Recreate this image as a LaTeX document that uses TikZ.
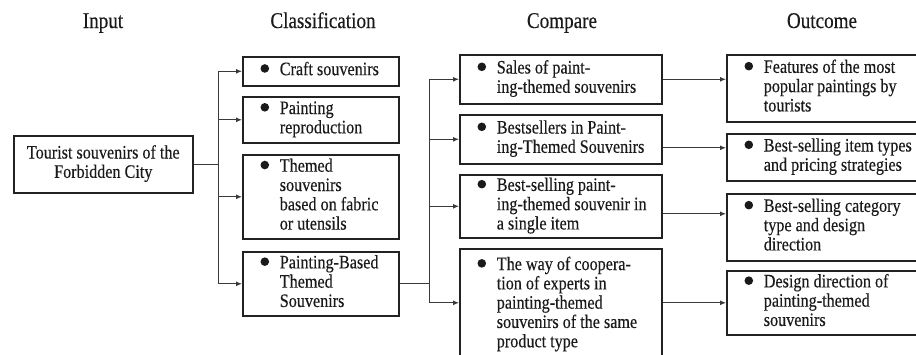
\documentclass[tikz,border=0pt]{standalone}
\usepackage{fontspec}
\setmainfont[FakeStretch=0.85,FakeBold=0.3]{Liberation Serif}
\usetikzlibrary{arrows.meta}
\definecolor{boxc}{HTML}{222222}
\definecolor{linec}{HTML}{3A3A3A}
\definecolor{txtc}{HTML}{1A1A1A}
\newcommand\bul{\makebox[19.3pt][l]{\tikz[baseline=-6.7pt]\fill[txtc] (4.3pt,0pt) circle (4.3pt);}}
\newcommand\itm[2]{\makebox[#1][l]{\hspace*{17.7pt}\bul\begin{tabular}[t]{@{}l@{}}#2\end{tabular}}}
\begin{document}
\begin{tikzpicture}[x=1pt,y=-1pt,
  font=\fontsize{19}{19.3}\selectfont,
  box/.style={draw=boxc, line width=1.6pt, inner sep=0pt, anchor=north west, text=txtc},
  ln/.style={draw=linec, line width=1pt},
  arr/.style={ln, -{Latex[length=6pt,width=5pt]}},
  hdr/.style={font=\fontsize{22.5}{27}\selectfont, text=txtc, anchor=base}]
\useasboundingbox (0,0) rectangle (916,354);
\clip (0,0) rectangle (916,354);
% headers
\node[hdr] (h1) at (103,28) {Input};
\node[hdr] (h2) at (323,28) {Classification};
\node[hdr] (h3) at (562,28) {Compare};
\node[hdr] (h4) at (822,28) {Outcome};
% input
\node[box, minimum width=179pt, minimum height=57pt] (in) at (13,135)
  {\begin{tabular}{@{}c@{}}Tourist souvenirs of the\\Forbidden City\end{tabular}};
% classification
\node[box, minimum height=29pt] (c1) at (242,56) {\itm{156pt}{Craft souvenirs}};
\node[box, minimum height=46pt] (c2) at (242,96) {\itm{156pt}{Painting\\reproduction}};
\node[box, minimum height=84pt] (c3) at (242,154) {\itm{156pt}{Themed\\souvenirs\\based on fabric\\or utensils}};
\node[box, minimum height=64pt] (c4) at (242,251) {\itm{156pt}{Painting-Based\\Themed\\Souvenirs}};
% compare
\node[box, minimum height=49pt] (p1) at (459,54) {\itm{202pt}{Sales of paint-\\ing-themed souvenirs}};
\node[box, minimum height=49pt] (p2) at (459,114) {\itm{202pt}{Bestsellers in Paint-\\ing-Themed Souvenirs}};
\node[box, minimum height=63pt] (p3) at (459,174) {\itm{202pt}{Best-selling paint-\\ing-themed souvenir in\\a single item}};
\node[box, minimum height=112pt] (p4) at (459,248) {\itm{202pt}{The way of coopera-\\tion of experts in\\painting-themed\\souvenirs of the same\\product type}};
% outcome
\node[box, minimum height=67pt] (o1) at (726,54) {\itm{204pt}{Features of the most\\popular paintings by\\tourists}};
\node[box, minimum height=47pt] (o2) at (726,133) {\itm{204pt}{Best-selling item types\\and pricing strategies}};
\node[box, minimum height=67pt] (o3) at (726,193) {\itm{204pt}{Best-selling category\\type and design\\direction}};
\node[box, minimum height=64pt] (o4) at (726,270) {\itm{204pt}{Design direction of\\painting-themed\\souvenirs}};
% junctions
\coordinate (j1) at (218,0);
\coordinate (j2) at (429,0);
% input -> classification
\draw[ln] (in.east) -- (in.east -| j1);
\draw[ln] (j1 |- c1.west) -- (j1 |- c4.west);
\foreach \n in {c1,c2,c3,c4} \draw[arr] (j1 |- \n.west) -- (\n.west);
% classification -> compare
\draw[ln] (c4.east) -- (c4.east -| j2);
\draw[ln] (j2 |- p1.west) -- ([yshift=2pt]j2 |- p4.west);
\draw[arr] (j2 |- p1.west) -- (p1.west);
\draw[arr] (j2 |- p2.west) -- (p2.west);
\draw[arr] (j2 |- p3.west) -- (p3.west);
\draw[arr] ([yshift=2pt]j2 |- p4.west) -- ([yshift=2pt]p4.west);
% compare -> outcome
\draw[arr] (p1.east) -- (p1.east -| o1.west);
\draw[arr] ([yshift=-8.5pt]p2.east) -- ([yshift=-8.5pt]p2.east -| o2.west);
\draw[arr] ([yshift=-7.5pt]p3.east) -- ([yshift=-7.5pt]p3.east -| o3.west);
\draw[arr] (p4.east |- o4.west) -- (o4.west);
\end{tikzpicture}
\end{document}
